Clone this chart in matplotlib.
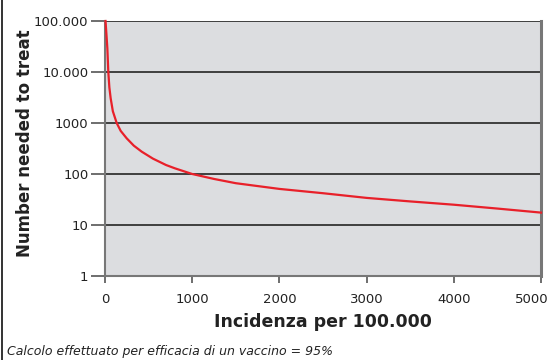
import matplotlib
matplotlib.use("Agg")
import matplotlib.pyplot as plt
from matplotlib.lines import Line2D
from matplotlib.transforms import ScaledTranslation

incidence = [6, 18, 27, 38, 50, 65, 90, 134, 180, 249, 330, 421, 550, 700, 803, 1000, 1250, 1500, 2000, 2500, 3000, 3500, 4000, 4500, 5000]
nnt = [100000, 50000, 29000, 10000, 5000, 3050, 1700, 1000, 700, 500, 360, 274, 200, 150, 129, 100, 80, 66, 51, 42, 34, 29, 25, 21, 17.5]
yticks = [1, 10, 100, 1000, 10000, 100000]
ytick_labels = ["1", "10", "100", "1000", "10.000", "100.000"]
xticks = [0, 1000, 2000, 3000, 4000, 5000]

fig = plt.figure(figsize=(5.52, 3.6), dpi=100)
ax = fig.add_axes([105/552, 1-276/360, (541-105)/552, (276-21)/360])
ax.set_facecolor("#dcdde0")
ax.set_yscale("log")
ax.set_xlim(0, 5000)
ax.set_ylim(1, 100000)
ax.set_yticks(yticks)
ax.set_yticklabels(ytick_labels)
ax.minorticks_off()
ax.set_xticks(xticks)
for y in yticks[1:]:
    ax.axhline(y, color="#333333", lw=1.3, zorder=1)
ax.plot(incidence, nnt, color="#e8202a", lw=1.6, zorder=3, clip_on=False,
        solid_joinstyle="round")

ax.spines["top"].set_visible(False)
for s in ["left", "bottom", "right"]:
    ax.spines[s].set_color("#777777")
    ax.spines[s].set_linewidth(1.5)
ax.spines["right"].set_linewidth(2.2)
ax.tick_params(axis="y", length=10, width=1.2, color="#555555", labelsize=9.5, pad=2, labelcolor="#222222")
ax.tick_params(axis="x", length=5, width=1.2, color="#555555", labelsize=9.5, pad=7, labelcolor="#222222")

last = ax.get_xticklabels()[-1]
last.set_transform(last.get_transform() + ScaledTranslation(-9/100, 0, fig.dpi_scale_trans))

ax.set_xlabel("Incidenza per 100.000", fontsize=12.5, fontweight="bold", color="#222222", labelpad=5)
ax.set_ylabel("Number needed to treat", fontsize=12, fontweight="bold", color="#222222")
ax.yaxis.set_label_coords(-0.163, 0.52)

fig.text(0.012, 1-352/360, "Calcolo effettuato per efficacia di un vaccino = 95%",
         fontsize=9, style="italic", color="#222222", va="center", ha="left")
fig.add_artist(Line2D([0.003, 0.003], [0, 1], transform=fig.transFigure, color="#111111", lw=1.2))

fig.savefig("out.png", dpi=100)
